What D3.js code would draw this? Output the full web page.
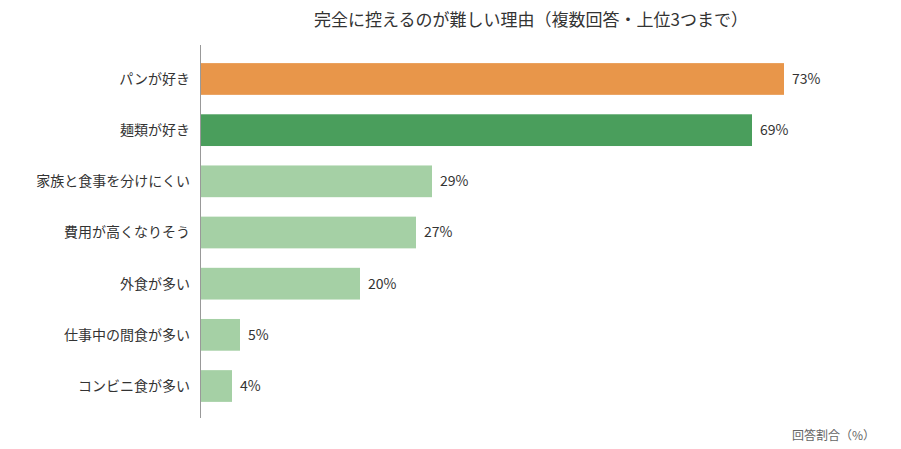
<!DOCTYPE html>
<html><head><meta charset="utf-8">
<script src="https://cdn.jsdelivr.net/npm/d3@7"></script>
<style>body{margin:0;background:#fff;font-family:"Noto Sans CJK JP","Noto Sans",sans-serif;}</style>
</head><body><svg id="c" width="901" height="449"></svg>
<script>
const categories = ["パンが好き","麺類が好き","家族と食事を分けにくい","費用が高くなりそう","外食が多い","仕事中の間食が多い","コンビニ食が多い"];
const values = [73,69,29,27,20,5,4];
const colors = ["#E8964A","#4A9E5C","#A5D0A5","#A5D0A5","#A5D0A5","#A5D0A5","#A5D0A5"];
const title = "完全に控えるのが難しい理由（複数回答・上位3つまで）";
const unitLabel = "回答割合（%）";

const svg = d3.select("#c");
const x = d3.scaleLinear().domain([0,100]).range([200,1000]);
const y = d3.scaleBand().domain(categories).range([53.4,411.6]).paddingInner(0.38).paddingOuter(0.19);

svg.append("text").attr("x",531).attr("y",26).attr("text-anchor","middle")
  .attr("font-size",17).attr("fill","#333").text(title);

svg.selectAll("rect.bar").data(values).join("rect").attr("class","bar")
  .attr("x",x(0)).attr("y",(d,i)=>y(categories[i]))
  .attr("width",d=>x(d)-x(0)).attr("height",y.bandwidth())
  .attr("fill",(d,i)=>colors[i]);

svg.append("line").attr("x1",200.5).attr("x2",200.5).attr("y1",45).attr("y2",418)
  .attr("stroke","#999").attr("stroke-width",1);

svg.selectAll("text.cat").data(categories).join("text").attr("class","cat")
  .attr("x",190).attr("y",d=>y(d)+y.bandwidth()/2).attr("dy","0.35em")
  .attr("text-anchor","end").attr("font-size",14).attr("fill","#333").text(d=>d);

svg.selectAll("text.val").data(values).join("text").attr("class","val")
  .attr("x",d=>x(d)+8).attr("y",(d,i)=>y(categories[i])+y.bandwidth()/2).attr("dy","0.35em")
  .attr("font-size",14).attr("fill","#333").text(d=>d+"%");

svg.append("text").attr("x",875).attr("y",440).attr("text-anchor","end")
  .attr("font-size",12).attr("fill","#666").text(unitLabel);
</script></body></html>
